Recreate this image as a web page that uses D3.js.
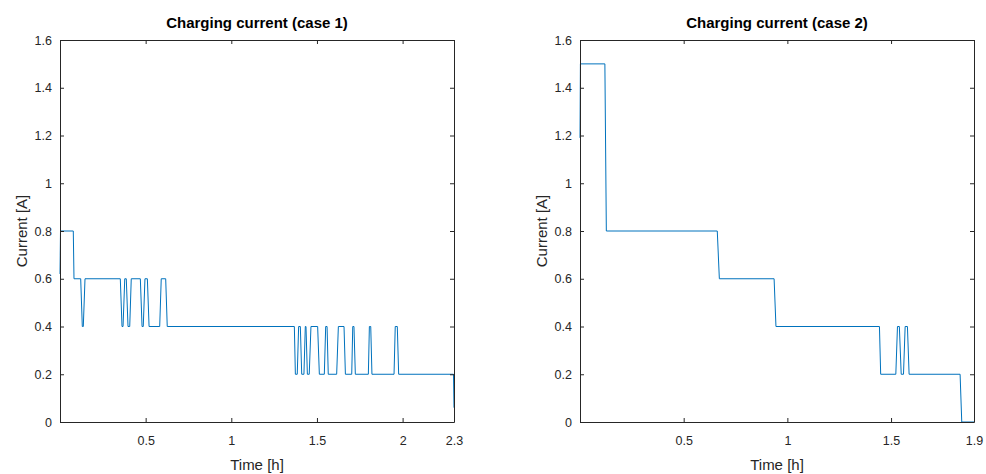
<!DOCTYPE html>
<html>
<head>
<meta charset="utf-8">
<script src="https://cdn.jsdelivr.net/npm/d3@7"></script>
<style>
  body { margin: 0; background: #fff; }
  svg text { font-family: "Liberation Sans", Arial, sans-serif; fill: #262626; }
  .chart-title { font-weight: bold; font-size: 15px; fill: #000; }
  .axis-label { font-size: 15px; }
  .tick text { font-size: 12.5px; }
</style>
</head>
<body>
<div id="chart"></div>
<script>
// Case 1: time [h] and charging current [A]
const time1 = [0, 0.003, 0.0776, 0.0817, 0.1208, 0.1302, 0.136, 0.146, 0.352, 0.362, 0.368, 0.378,
  0.387, 0.397, 0.407, 0.416, 0.469, 0.479, 0.486, 0.496, 0.510, 0.520, 0.582, 0.591, 0.617, 0.626,
  1.368, 1.374, 1.385, 1.393, 1.403, 1.411, 1.424, 1.432, 1.436, 1.444, 1.455, 1.465, 1.504, 1.514,
  1.543, 1.551, 1.559, 1.566, 1.615, 1.625, 1.658, 1.666, 1.703, 1.709, 1.716, 1.724, 1.800, 1.806,
  1.814, 1.821, 1.950, 1.957, 1.969, 1.977, 2.297, 2.3];
const current1 = [0.62, 0.8, 0.8, 0.6, 0.6, 0.4, 0.4, 0.6, 0.6, 0.4, 0.4, 0.6,
  0.6, 0.4, 0.4, 0.6, 0.6, 0.4, 0.4, 0.6, 0.6, 0.4, 0.4, 0.6, 0.6, 0.4,
  0.4, 0.2, 0.2, 0.4, 0.4, 0.2, 0.2, 0.4, 0.4, 0.2, 0.2, 0.4, 0.4, 0.2,
  0.2, 0.4, 0.4, 0.2, 0.2, 0.4, 0.4, 0.2, 0.2, 0.4, 0.4, 0.2, 0.2, 0.4,
  0.4, 0.2, 0.2, 0.4, 0.4, 0.2, 0.2, 0.06];

// Case 2
const time2 = [0, 0.002, 0.120, 0.127, 0.662, 0.672, 0.936, 0.945, 1.444, 1.450, 1.523, 1.531,
  1.540, 1.549, 1.560, 1.568, 1.579, 1.587, 1.833, 1.841, 1.9];
const current2 = [1.19, 1.5, 1.5, 0.8, 0.8, 0.6, 0.6, 0.4, 0.4, 0.2, 0.2, 0.4,
  0.4, 0.2, 0.2, 0.4, 0.4, 0.2, 0.2, 0, 0];

// Axis settings
const yTicks = [0, 0.2, 0.4, 0.6, 0.8, 1, 1.2, 1.4, 1.6];
const xTicks1 = [0.5, 1, 1.5, 2, 2.3];
const xTicks2 = [0.5, 1, 1.5, 1.9];

const panels = [
  { title: "Charging current (case 1)", time: time1, current: current1, xMax: 2.3, xTicks: xTicks1, left: 60 },
  { title: "Charging current (case 2)", time: time2, current: current2, xMax: 1.9, xTicks: xTicks2, left: 580 }
];

const plotTop = 40;
const plotWidth = 394;
const plotHeight = 382;

const svg = d3.select("#chart")
  .append("svg")
  .attr("width", 986)
  .attr("height", 474);

panels.forEach(p => {
  const g = svg.append("g")
    .attr("transform", `translate(${p.left},${plotTop})`);

  const x = d3.scaleLinear().domain([0, p.xMax]).range([0, plotWidth]);
  const y = d3.scaleLinear().domain([0, 1.6]).range([plotHeight, 0]);

  // Data line
  const points = p.time.map((t, i) => [t, p.current[i]]);
  g.append("path")
    .datum(points)
    .attr("fill", "none")
    .attr("stroke", "#0072BD")
    .attr("stroke-width", 1)
    .attr("d", d3.line().x(d => x(d[0])).y(d => y(d[1])));

  // Axes with inward ticks, MATLAB-style box
  const styleAxis = sel => {
    sel.select(".domain").attr("stroke", "#262626").attr("stroke-width", 1);
    sel.selectAll(".tick line").attr("stroke", "#262626");
  };

  g.append("g")
    .attr("transform", `translate(0,${plotHeight})`)
    .call(d3.axisBottom(x).tickValues(p.xTicks).tickSizeInner(-4).tickSizeOuter(0).tickPadding(14).tickFormat(d3.format("")))
    .call(styleAxis)
    .call(a => a.selectAll(".tick text").attr("fill", "#262626"));

  g.append("g")
    .call(d3.axisLeft(y).tickValues(yTicks).tickSizeInner(-4).tickSizeOuter(0).tickPadding(8).tickFormat(d3.format("")))
    .call(styleAxis)
    .call(a => a.selectAll(".tick text").attr("fill", "#262626"));

  g.append("g")
    .call(d3.axisTop(x).tickValues(p.xTicks).tickSizeInner(-4).tickSizeOuter(0).tickFormat(""))
    .call(styleAxis);

  g.append("g")
    .attr("transform", `translate(${plotWidth},0)`)
    .call(d3.axisRight(y).tickValues(yTicks).tickSizeInner(-4).tickSizeOuter(0).tickFormat(""))
    .call(styleAxis);

  // Title and axis labels
  g.append("text")
    .attr("class", "chart-title")
    .attr("x", plotWidth / 2)
    .attr("y", -12)
    .attr("text-anchor", "middle")
    .text(p.title);

  g.append("text")
    .attr("class", "axis-label")
    .attr("x", plotWidth / 2)
    .attr("y", plotHeight + 48)
    .attr("text-anchor", "middle")
    .text("Time [h]");

  g.append("text")
    .attr("class", "axis-label")
    .attr("transform", "rotate(-90)")
    .attr("x", -plotHeight / 2)
    .attr("y", -33)
    .attr("text-anchor", "middle")
    .text("Current [A]");
});
</script>
</body>
</html>
